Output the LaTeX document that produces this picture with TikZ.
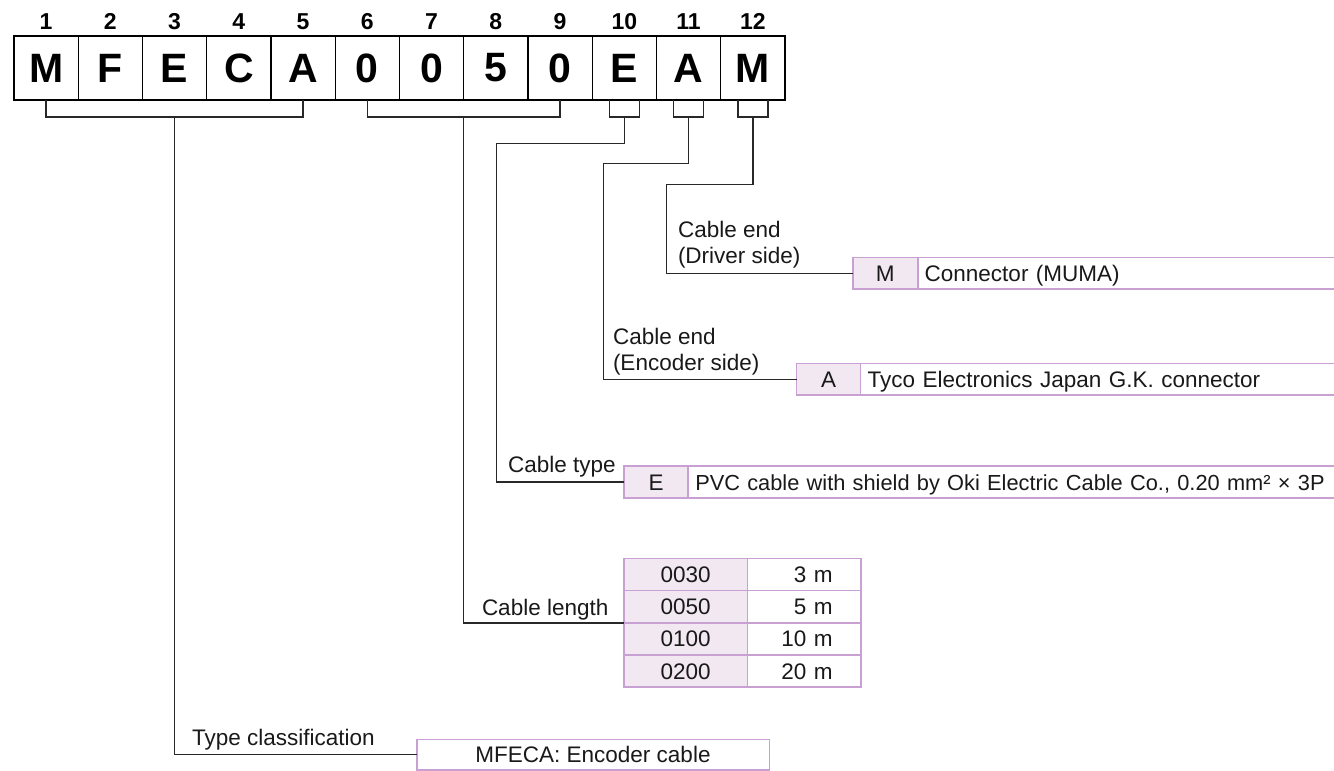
\documentclass[tikz,border=0pt]{standalone}
\usepackage{fontspec}
\setmainfont{Liberation Sans}
\usetikzlibrary{calc}
\definecolor{cellborder}{RGB}{200,160,210}
\definecolor{cellfill}{RGB}{242,232,242}
\definecolor{ink}{RGB}{25,25,25}
\definecolor{wirecol}{RGB}{40,40,40}
\newcommand\lblfont{\fontsize{22.5}{26}\selectfont}
\begin{document}
\begin{tikzpicture}[x=1pt,y=-1pt,
  every node/.style={inner sep=0pt, outer sep=0pt},
  topbox/.style={draw=black, line width=1.3pt, minimum width=64.25pt, minimum height=64pt, font=\fontsize{41}{41}\selectfont\bfseries},
  idx/.style={anchor=base, font=\fontsize{23}{23}\selectfont\bfseries},
  lbl/.style={anchor=base west, text=ink, font=\lblfont},
  wire/.style={draw=wirecol, line width=1.4pt},
  cell/.style={line width=1.6pt, draw=cellborder, minimum height=31.7pt, text height=16pt, text depth=0pt, text=ink, font=\lblfont},
  code/.style={cell, fill=cellfill},
  desc/.style={cell, anchor=west, text width=#1, align=left, inner xsep=7pt},
  lenval/.style={cell, anchor=west, text width=57.4pt, align=right, inner xsep=28pt}
]
\useasboundingbox (0,0) rectangle (1334,771);

% code boxes and position numbers
\foreach \i/\c in {1/M,2/F,3/E,4/C,5/A,6/0,7/0,8/5,9/0,10/E,11/A,12/M}{
  \node[topbox] (b\i) at ({14+(\i-0.5)*64.25},68) {\c};
  \node[idx] (n\i) at ({14+(\i-0.5)*64.25},30) {\i};
}

% brackets under the boxes
\draw[wire] (b1.south) -- ++(0,17) -| (b5.south);
\draw[wire] (b6.south) -- ++(0,17) -| (b9.south);
\foreach \i in {10,11,12}
  \draw[wire] ($(b\i.south)+(-15,0)$) -- ++(0,17) -| ($(b\i.south)+(15,0)$);

\coordinate (g1) at ($(b1.south)!0.5!(b5.south)+(0,17)$);
\coordinate (g2) at ($(b6.south)!0.5!(b9.south)+(0,17)$);
\coordinate (t10) at ($(b10.south)+(0,17)$);
\coordinate (t11) at ($(b11.south)+(0,17)$);
\coordinate (t12) at ($(b12.south)+(0,17)$);
\coordinate (k10) at (496.7,143.3);
\coordinate (k11) at (603.3,163.3);
\coordinate (k12) at (666.7,184.3);

% Cable end (Driver side)
\node[code, minimum width=65pt] (Mc) at (885.2,273.2) {M};
\node[desc=420pt] (Md) at (Mc.east) {Connector (MUMA)};
\node[lbl] (lm1) at (678,237) {Cable end};
\node[lbl] (lm2) at (678,263) {(Driver side)};

% Cable end (Encoder side)
\node[code, minimum width=64pt] (Ac) at (828.5,379.2) {A};
\node[desc=480pt] (Ad) at (Ac.east) {Tyco Electronics Japan G.K. connector};
\node[lbl] (la1) at (613,344) {Cable end};
\node[lbl] (la2) at (613,370) {(Encoder side)};

% Cable type
\node[code, minimum width=64.3pt] (Ec) at (656.1,482) {E};
\node[desc=700pt, font=\fontsize{21.8}{26}\selectfont] (Ed) at (Ec.east) {PVC cable with shield by Oki Electric Cable Co., 0.20 mm² × 3P};
\node[lbl] (le) at (508,472) {Cable type};

% Cable length table
\foreach \r/\c/\v in {1/0030/3 m,2/0050/5 m,3/0100/10 m,4/0200/20 m}{
  \node[code, minimum width=123.3pt, minimum height=32.2pt] (L\r c) at (685.65,{558.4+(\r-0.5)*32.2}) {\c};
  \node[lenval, minimum height=32.2pt] (L\r v) at (L\r c.east) {\v};
}
\node[lbl] (ll) at (482,615) {Cable length};

% Type classification
\node[cell, minimum width=352.6pt, minimum height=30.7pt] (mf) at (593,754.7) {MFECA: Encoder cable};
\node[lbl] (lt) at (192,745) {Type classification};

% connectors
\draw[wire] (g1) |- (mf.west);
\draw[wire] (g2) |- (L2c.south west);
\draw[wire] (t10) |- (k10) |- (Ec.west);
\draw[wire] (t11) |- (k11) |- (Ac.west);
\draw[wire] (t12) |- (k12) |- (Mc.west);
\end{tikzpicture}
\end{document}
